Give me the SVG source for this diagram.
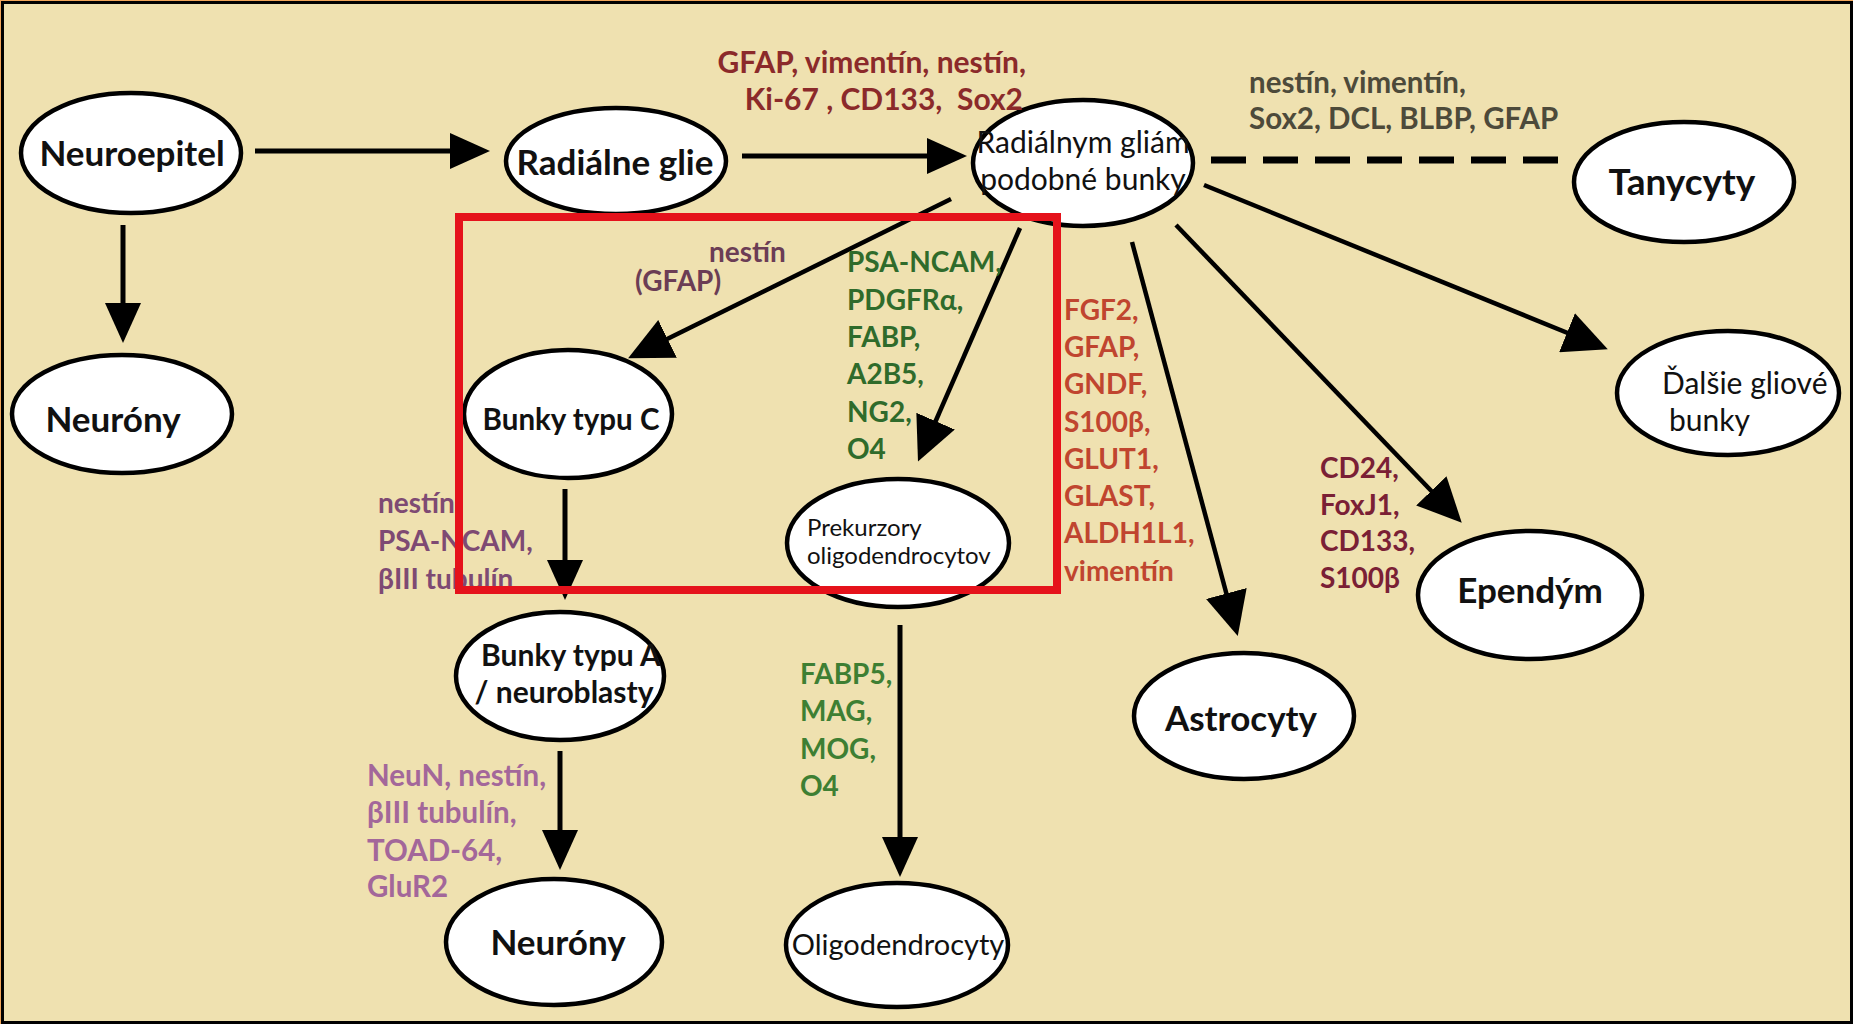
<svg xmlns="http://www.w3.org/2000/svg" width="1853" height="1024" viewBox="0 0 1853 1024">
<defs>
<style>
.node ellipse{fill:#fff;stroke:#000;stroke-width:4.5}
.lbl{font-family:Lato,"Liberation Sans",sans-serif;font-weight:bold;font-size:35px;fill:#111;text-anchor:middle}
.lblr{font-family:Lato,"Liberation Sans",sans-serif;font-weight:normal;fill:#111}
.mk{font-family:Lato,"Liberation Sans",sans-serif;font-weight:bold;font-size:28px}
.edge{stroke:#000;stroke-width:5;fill:none;marker-end:url(#ah)}
.diag{stroke-width:4.5;marker-end:url(#ah2)}
.dash{stroke:#000;stroke-width:7;fill:none;stroke-dasharray:35 17}
</style>
<marker id="ah" viewBox="0 0 40 36" refX="10" refY="18" markerWidth="40" markerHeight="36" markerUnits="userSpaceOnUse" orient="auto"><path d="M0,0 L40,18 L0,36 z" fill="#000"/></marker>
<marker id="ah2" viewBox="0 0 44 42" refX="14" refY="21" markerWidth="44" markerHeight="42" markerUnits="userSpaceOnUse" orient="auto"><path d="M0,0 L44,21 L0,42 z" fill="#000"/></marker>
</defs>
<rect x="0" y="0" width="1853" height="1024" fill="#f2a65a"/>
<rect x="1" y="1" width="1852" height="1023" fill="#000"/>
<rect x="4" y="4" width="1846" height="1017" fill="#efe1b0"/>

<g id="connectors">
<line class="edge" x1="255" y1="151" x2="460" y2="151"/>
<line class="edge" x1="123" y1="225" x2="123" y2="313"/>
<line class="edge" x1="742" y1="156" x2="937" y2="156"/>
<line class="dash" x1="1211" y1="160" x2="1566" y2="160"/>
<line class="edge diag" x1="951" y1="199" x2="655" y2="345"/>
<line class="edge diag" x1="1020" y1="228" x2="930" y2="434"/>
<line class="edge diag" x1="1132" y1="242" x2="1230" y2="607"/>
<line class="edge diag" x1="1176" y1="225" x2="1441" y2="501"/>
<line class="edge diag" x1="1204" y1="185" x2="1580" y2="338"/>
<line class="edge" x1="565" y1="489" x2="565" y2="570"/>
<line class="edge" x1="560" y1="751" x2="560" y2="840"/>
<line class="edge" x1="900" y1="625" x2="900" y2="847"/>
</g>

<g id="n-neuroepitel" class="node"><ellipse cx="131" cy="153" rx="110" ry="60"/><text class="lbl" x="132" y="166">Neuroepitel</text></g>
<g id="n-neurony1" class="node"><ellipse cx="122" cy="414" rx="110" ry="59"/><text class="lbl" x="113" y="432">Neuróny</text></g>
<g id="n-radialne" class="node"><ellipse cx="616" cy="161" rx="110" ry="53"/><text class="lbl" x="615" y="175">Radiálne glie</text></g>
<g id="n-rgl" class="node"><ellipse cx="1083" cy="163" rx="110" ry="63"/><text class="lblr" font-size="30" text-anchor="middle" x="1083" y="153">Radiálnym gliám</text><text class="lblr" font-size="30" text-anchor="middle" x="1083" y="190">podobné bunky</text></g>
<g id="n-tanycyty" class="node"><ellipse cx="1684" cy="182" rx="110" ry="60"/><text class="lbl" style="font-size:37px" x="1682" y="195">Tanycyty</text></g>
<g id="n-dalsie" class="node"><ellipse cx="1728" cy="393" rx="111" ry="62"/><text class="lblr" font-size="30" x="1662" y="394">Ďalšie gliové</text><text class="lblr" font-size="30" x="1669" y="431">bunky</text></g>
<g id="n-bunkyC" class="node"><ellipse cx="568" cy="414" rx="104" ry="64"/><text class="lbl" style="font-size:29.5px" x="571" y="430">Bunky typu C</text></g>
<g id="n-prekurzory" class="node"><ellipse cx="898" cy="543" rx="111" ry="64"/><text class="lblr" font-size="24" x="807" y="536">Prekurzory</text><text class="lblr" font-size="24" x="807" y="564">oligodendrocytov</text></g>
<g id="n-bunkyA" class="node"><ellipse cx="560" cy="676" rx="104" ry="64"/><text class="lbl" style="font-size:30px" x="571" y="666">Bunky typu A</text><text class="lbl" style="font-size:30px" x="564" y="703">/ neuroblasty</text></g>
<g id="n-neurony2" class="node"><ellipse cx="554" cy="942" rx="108" ry="63"/><text class="lbl" x="558" y="955">Neuróny</text></g>
<g id="n-oligo" class="node"><ellipse cx="897" cy="945" rx="111" ry="62"/><text class="lblr" font-size="29" text-anchor="middle" x="898" y="955">Oligodendrocyty</text></g>
<g id="n-astro" class="node"><ellipse cx="1244" cy="716" rx="110" ry="63"/><text class="lbl" x="1241" y="731">Astrocyty</text></g>
<g id="n-ependym" class="node"><ellipse cx="1530" cy="595" rx="112" ry="64"/><text class="lbl" x="1530" y="603">Ependým</text></g>

<g id="labels">
<g class="mk" fill="#8b2a2a" text-anchor="end" style="font-size:30px"><text x="1026" y="73">GFAP, vimentín, nestín,</text><text x="1023" y="110" xml:space="preserve">Ki-67 , CD133,  Sox2</text></g>
<g class="mk" fill="#4d4a3a" style="font-size:29.5px"><text x="1249" y="93">nestín, vimentín,</text><text x="1249" y="129">Sox2, DCL, BLBP, GFAP</text></g>
<g class="mk" fill="#6b3d55"><text x="709" y="262">nestín</text><text x="635" y="291">(GFAP)</text></g>
<g class="mk" fill="#2f6b2b"><text x="847" y="272">PSA-NCAM,</text><text x="847" y="310">PDGFRα,</text><text x="847" y="347">FABP,</text><text x="847" y="384">A2B5,</text><text x="847" y="422">NG2,</text><text x="847" y="459">O4</text></g>
<g class="mk" fill="#c0452f"><text x="1064" y="320">FGF2,</text><text x="1064" y="357">GFAP,</text><text x="1064" y="394">GNDF,</text><text x="1064" y="432">S100β,</text><text x="1064" y="469">GLUT1,</text><text x="1064" y="506">GLAST,</text><text x="1064" y="543">ALDH1L1,</text><text x="1064" y="581">vimentín</text></g>
<g class="mk" fill="#7e4a73"><text x="378" y="513">nestín,</text><text x="378" y="551">PSA-NCAM,</text><text x="378" y="589">βIII tubulín</text></g>
<g class="mk" fill="#a3679a" style="font-size:29.5px"><text x="367" y="786">NeuN, nestín,</text><text x="367" y="823">βIII tubulín,</text><text x="367" y="861">TOAD-64,</text><text x="367" y="897">GluR2</text></g>
<g class="mk" fill="#3e7f33"><text x="800" y="684">FABP5,</text><text x="800" y="721">MAG,</text><text x="800" y="759">MOG,</text><text x="800" y="796">O4</text></g>
<g class="mk" fill="#7a2035"><text x="1320" y="478">CD24,</text><text x="1320" y="515">FoxJ1,</text><text x="1320" y="551">CD133,</text><text x="1320" y="588">S100β</text></g>
</g>

<rect id="highlight" x="459" y="217" width="598" height="373" fill="none" stroke="#e5121b" stroke-width="8"/>
</svg>
